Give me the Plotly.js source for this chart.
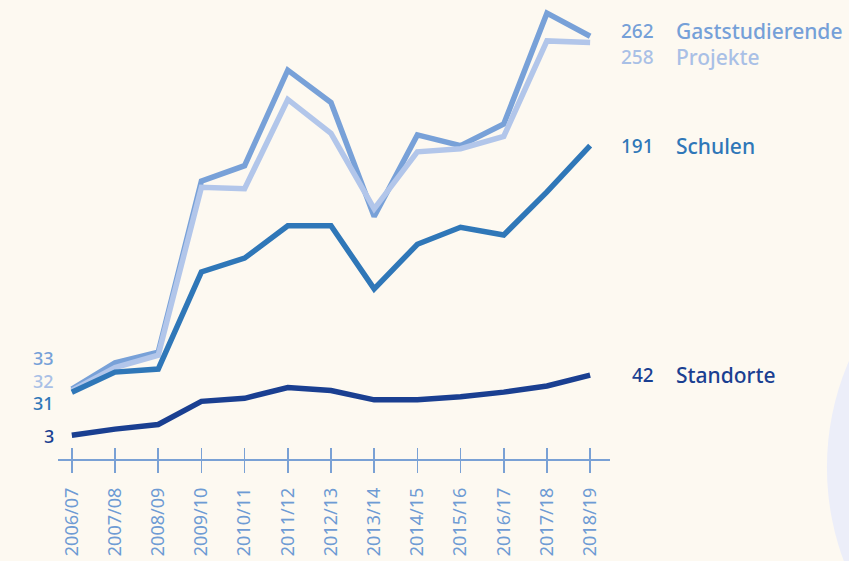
<!DOCTYPE html>
<html>
<head>
<meta charset="utf-8">
<script src="https://cdn.plot.ly/plotly-3.0.1.min.js"></script>
<style>
html,body{margin:0;padding:0;background:#fdf9f1;}
#chart{width:849px;height:561px;}
</style>
</head>
<body>
<div id="chart"></div>
<script>
const years = ["2006/07","2007/08","2008/09","2009/10","2010/11","2011/12","2012/13","2013/14","2014/15","2015/16","2016/17","2017/18","2018/19"];
const gaststudierende = [33, 50, 57, 168, 178, 240, 219, 145, 198, 191, 205, 277, 262];
const projekte        = [32, 47, 55, 164, 163, 221, 199, 150, 187, 189, 197, 259, 258];
const schulen         = [31, 44, 46, 109, 118, 139, 139, 98, 127, 138, 133, 161, 191];
const standorte       = [3, 7, 10, 25, 27, 34, 32, 26, 26, 28, 31, 35, 42];

const seriesNames = ["Gaststudierende", "Projekte", "Schulen", "Standorte"];
const seriesData = [gaststudierende, projekte, schulen, standorte];
const colors = ["#78a1d8", "#b2c6ea", "#2f77b8", "#1a3f91"];
const textColors = ["#75a0d8", "#a9c0e6", "#2f77b8", "#1a3f91"];
const rightShift = [5, -15, 0, 0];
const leftShift = [31, 10, -11, -1];

const FONT = "Noto Sans, Open Sans, sans-serif";
const AXIS = "#7aa1d5";

const traces = seriesData.map((vals, i) => ({
  type: "scatter", mode: "lines", x: years, y: vals, name: seriesNames[i],
  line: {color: colors[i], width: 5.5, shape: "linear"},
  cliponaxis: false, hoverinfo: "skip"
}));
traces.push({type: "scatter", mode: "lines", x: years, y: standorte, xaxis: "x2", yaxis: "y",
  line: {width: 0}, opacity: 0, hoverinfo: "skip", showlegend: false});

const annotations = [];
seriesData.forEach((vals, i) => {
  const last = vals[vals.length - 1];
  annotations.push({xref: "paper", yref: "y", x: 1.0833, y: last, yshift: rightShift[i],
    xanchor: "right", yanchor: "middle", text: String(last), showarrow: false,
    font: {family: FONT, size: 19, weight: 500, color: textColors[i]}});
  annotations.push({xref: "paper", yref: "y", x: 1.1159, y: last, yshift: rightShift[i],
    xanchor: "left", yanchor: "middle", text: seriesNames[i], showarrow: false,
    font: {family: FONT, size: 21, weight: 500, color: textColors[i]}});
  annotations.push({xref: "paper", yref: "y", x: -0.004, y: vals[0], yshift: leftShift[i],
    xanchor: "right", yanchor: "middle", text: String(vals[0]), showarrow: false,
    font: {family: FONT, size: 18, weight: 500, color: textColors[i]}});
});

const layout = {
  width: 849, height: 561,
  paper_bgcolor: "#fdf9f1", plot_bgcolor: "rgba(0,0,0,0)",
  margin: {l: 58, r: 239, t: 5, b: 102},
  showlegend: false,
  xaxis: {type: "category", range: [-0.32, 12.46], showgrid: false, zeroline: false,
    showline: true, linecolor: AXIS, linewidth: 1.5,
    ticks: "outside", ticklen: 12, tickwidth: 1.5, tickcolor: AXIS,
    tickangle: -90, ticklabelstandoff: 8,
    tickfont: {family: FONT, size: 18, color: "#6e9bd4"}},
  xaxis2: {type: "category", overlaying: "x", anchor: "y", side: "bottom", range: [-0.32, 12.46],
    showgrid: false, zeroline: false, showline: false, showticklabels: false,
    ticks: "inside", ticklen: 11, tickwidth: 1.5, tickcolor: AXIS},
  yaxis: {range: [-12.4, 282.3], visible: false, showgrid: false, zeroline: false},
  shapes: [{type: "circle", xref: "paper", yref: "paper", layer: "below",
    x0: 1.393, x1: 2.364, y0: -0.609, y1: 0.572,
    fillcolor: "#eceef9", line: {width: 0}}],
  annotations: annotations
};

Plotly.newPlot("chart", traces, layout, {staticPlot: true});
</script>
</body>
</html>
